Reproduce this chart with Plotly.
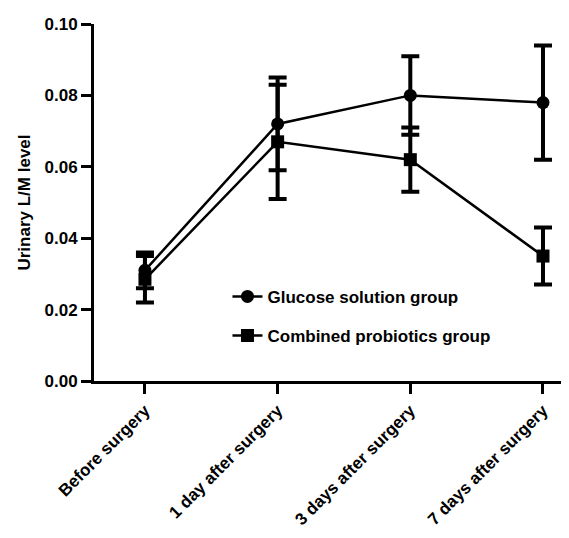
import plotly.graph_objects as go

categories = ["Before surgery", "1 day after surgery", "3 days after surgery", "7 days after surgery"]
glucose = [0.031, 0.072, 0.080, 0.078]
glucose_err = [0.005, 0.013, 0.011, 0.016]
probiotics = [0.0285, 0.067, 0.062, 0.035]
probiotics_err = [0.0065, 0.016, 0.009, 0.008]
y_ticks = [0.00, 0.02, 0.04, 0.06, 0.08, 0.10]

FONT = "Arial, Liberation Sans, sans-serif"

fig = go.Figure()
fig.add_trace(go.Scatter(
    x=list(range(len(categories))), y=glucose, name="Glucose solution group",
    mode="lines+markers", legendgroup="g1",
    line=dict(color="black", width=2.5),
    marker=dict(symbol="circle", size=13, color="black"),
    error_y=dict(type="data", array=glucose_err, visible=True, color="black", thickness=4, width=9),
))
fig.add_trace(go.Scatter(
    x=list(range(len(categories))), y=probiotics, name="Combined probiotics group",
    mode="lines+markers", legendgroup="g2",
    line=dict(color="black", width=2.5),
    marker=dict(symbol="square", size=13, color="black"),
    error_y=dict(type="data", array=probiotics_err, visible=True, color="black", thickness=4, width=9),
))

# page body has an 8px default margin, so the figure is sized/offset to compensate
fig.update_layout(
    width=561, height=530,
    margin=dict(l=86, r=0, t=16, b=157),
    plot_bgcolor="white", paper_bgcolor="white",
    font=dict(family=FONT, size=16, color="black"),
    showlegend=True,
    legend=dict(x=0.281, y=0.286, xanchor="left", yanchor="top",
                bgcolor="rgba(0,0,0,0)", tracegroupgap=14,
                font=dict(family=FONT, size=17, color="black", weight="bold")),
    xaxis=dict(
        range=[-0.384, 3.196], automargin=False,
        tickmode="array", tickvals=list(range(len(categories))), ticktext=categories,
        tickangle=-45, ticks="outside", ticklen=10, tickwidth=3, tickcolor="black",
        showline=True, linecolor="black", linewidth=3, showgrid=False, zeroline=False,
        tickfont=dict(family=FONT, size=17, color="black", weight="bold"),
    ),
    yaxis=dict(
        range=[0, 0.1], automargin=False, tickmode="array", tickvals=y_ticks,
        ticktext=[f"{v:.2f}" for v in y_ticks],
        ticks="outside", ticklen=10, tickwidth=3, tickcolor="black",
        showline=True, linecolor="black", linewidth=3, showgrid=False, zeroline=False,
        tickfont=dict(family=FONT, size=17, color="black", weight="bold"),
        title=dict(text="Urinary L/M level", standoff=10,
                   font=dict(family=FONT, size=17, color="black", weight="bold")),
    ),
)

fig.write_html("out.html")
